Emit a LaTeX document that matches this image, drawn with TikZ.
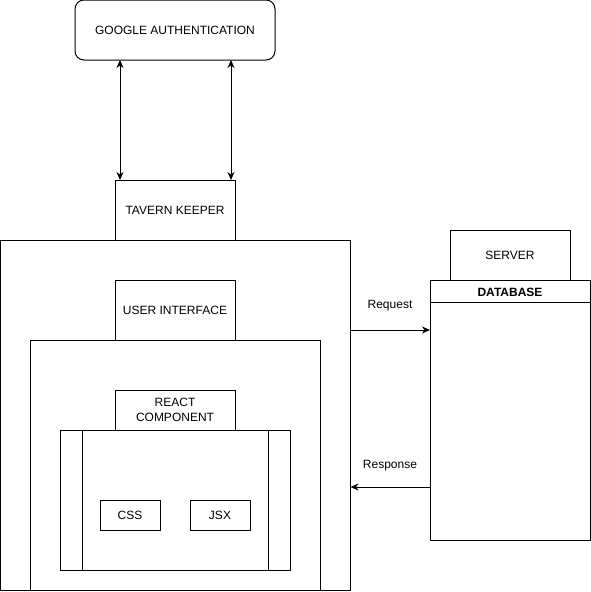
\documentclass[tikz,border=0pt]{standalone}
\usepackage{fontspec}
\setmainfont{Liberation Sans}
\usetikzlibrary{arrows.meta}
\begin{document}
\begin{tikzpicture}[x=1pt,y=-1pt,
  box/.style={draw, line width=1pt, inner sep=0pt, outer sep=0pt, align=center,
    font=\fontsize{12}{14.5}\selectfont},
  lbl/.style={inner sep=0pt, font=\fontsize{12}{14.5}\selectfont},
  arr/.style={line width=1pt, -{Stealth[length=8pt,width=7pt,inset=2.5pt]}},
  darr/.style={line width=1pt, {Stealth[length=8pt,width=7pt,inset=2.5pt]}-{Stealth[length=8pt,width=7pt,inset=2.5pt]}}]
\useasboundingbox (0,0) rectangle (591,592);
% Google
\node[box, rounded corners=9pt, minimum width=200pt, minimum height=60pt] (g) at (175,30) {GOOGLE AUTHENTICATION};
% Tavern keeper
\node[box, minimum width=120pt, minimum height=60pt] (tk) at (175,210) {TAVERN KEEPER};
% outer box
\node[box, minimum width=350pt, minimum height=350pt] (outer) at (175.5,415) {};
% user interface
\node[box, minimum width=120pt, minimum height=60pt] (ui) at (175,310) {USER INTERFACE};
% inner box
\node[box, minimum width=290pt, minimum height=250pt] (inner) at (175,465) {};
% react component
\node[box, minimum width=120pt, minimum height=40pt] (rc) at (175,410) {REACT\\COMPONENT};
% process box
\node[box, minimum width=230pt, minimum height=140pt] (proc) at (175,500) {};
\draw[line width=1pt] ([xshift=22pt]proc.north west) -- ([xshift=22pt]proc.south west);
\draw[line width=1pt] ([xshift=-22pt]proc.north east) -- ([xshift=-22pt]proc.south east);
% CSS / JSX
\node[box, minimum width=60pt, minimum height=30pt] (css) at (130,515) {CSS};
\node[box, minimum width=60pt, minimum height=30pt] (jsx) at (220,515) {JSX};
% server
\node[box, minimum width=120pt, minimum height=50pt] (srv) at (510,255) {SERVER};
% database
\node[box, minimum width=160pt, minimum height=260pt] (db) at (510,410) {};
\draw[line width=1pt] ([yshift=-22pt]db.north west) -- ([yshift=-22pt]db.north east);
\node[lbl, font=\fontsize{12}{14.5}\selectfont\bfseries] (dbt) at (510,292) {DATABASE};
% google arrows
\coordinate (a1) at (120,0);
\coordinate (a2) at (231,0);
\draw[darr] (g.south -| a1) -- (tk.north -| a1);
\draw[darr] (g.south -| a2) -- (tk.north -| a2);
% request / response
\coordinate (rq) at (0,330);
\coordinate (rs) at (0,487);
\draw[arr] (outer.east |- rq) -- (db.west |- rq);
\draw[arr] (db.west |- rs) -- (outer.east |- rs);
\node[lbl] (rql) at (390,306) {Request};
\node[lbl] (rsl) at (390,466) {Response};
\end{tikzpicture}
\end{document}
